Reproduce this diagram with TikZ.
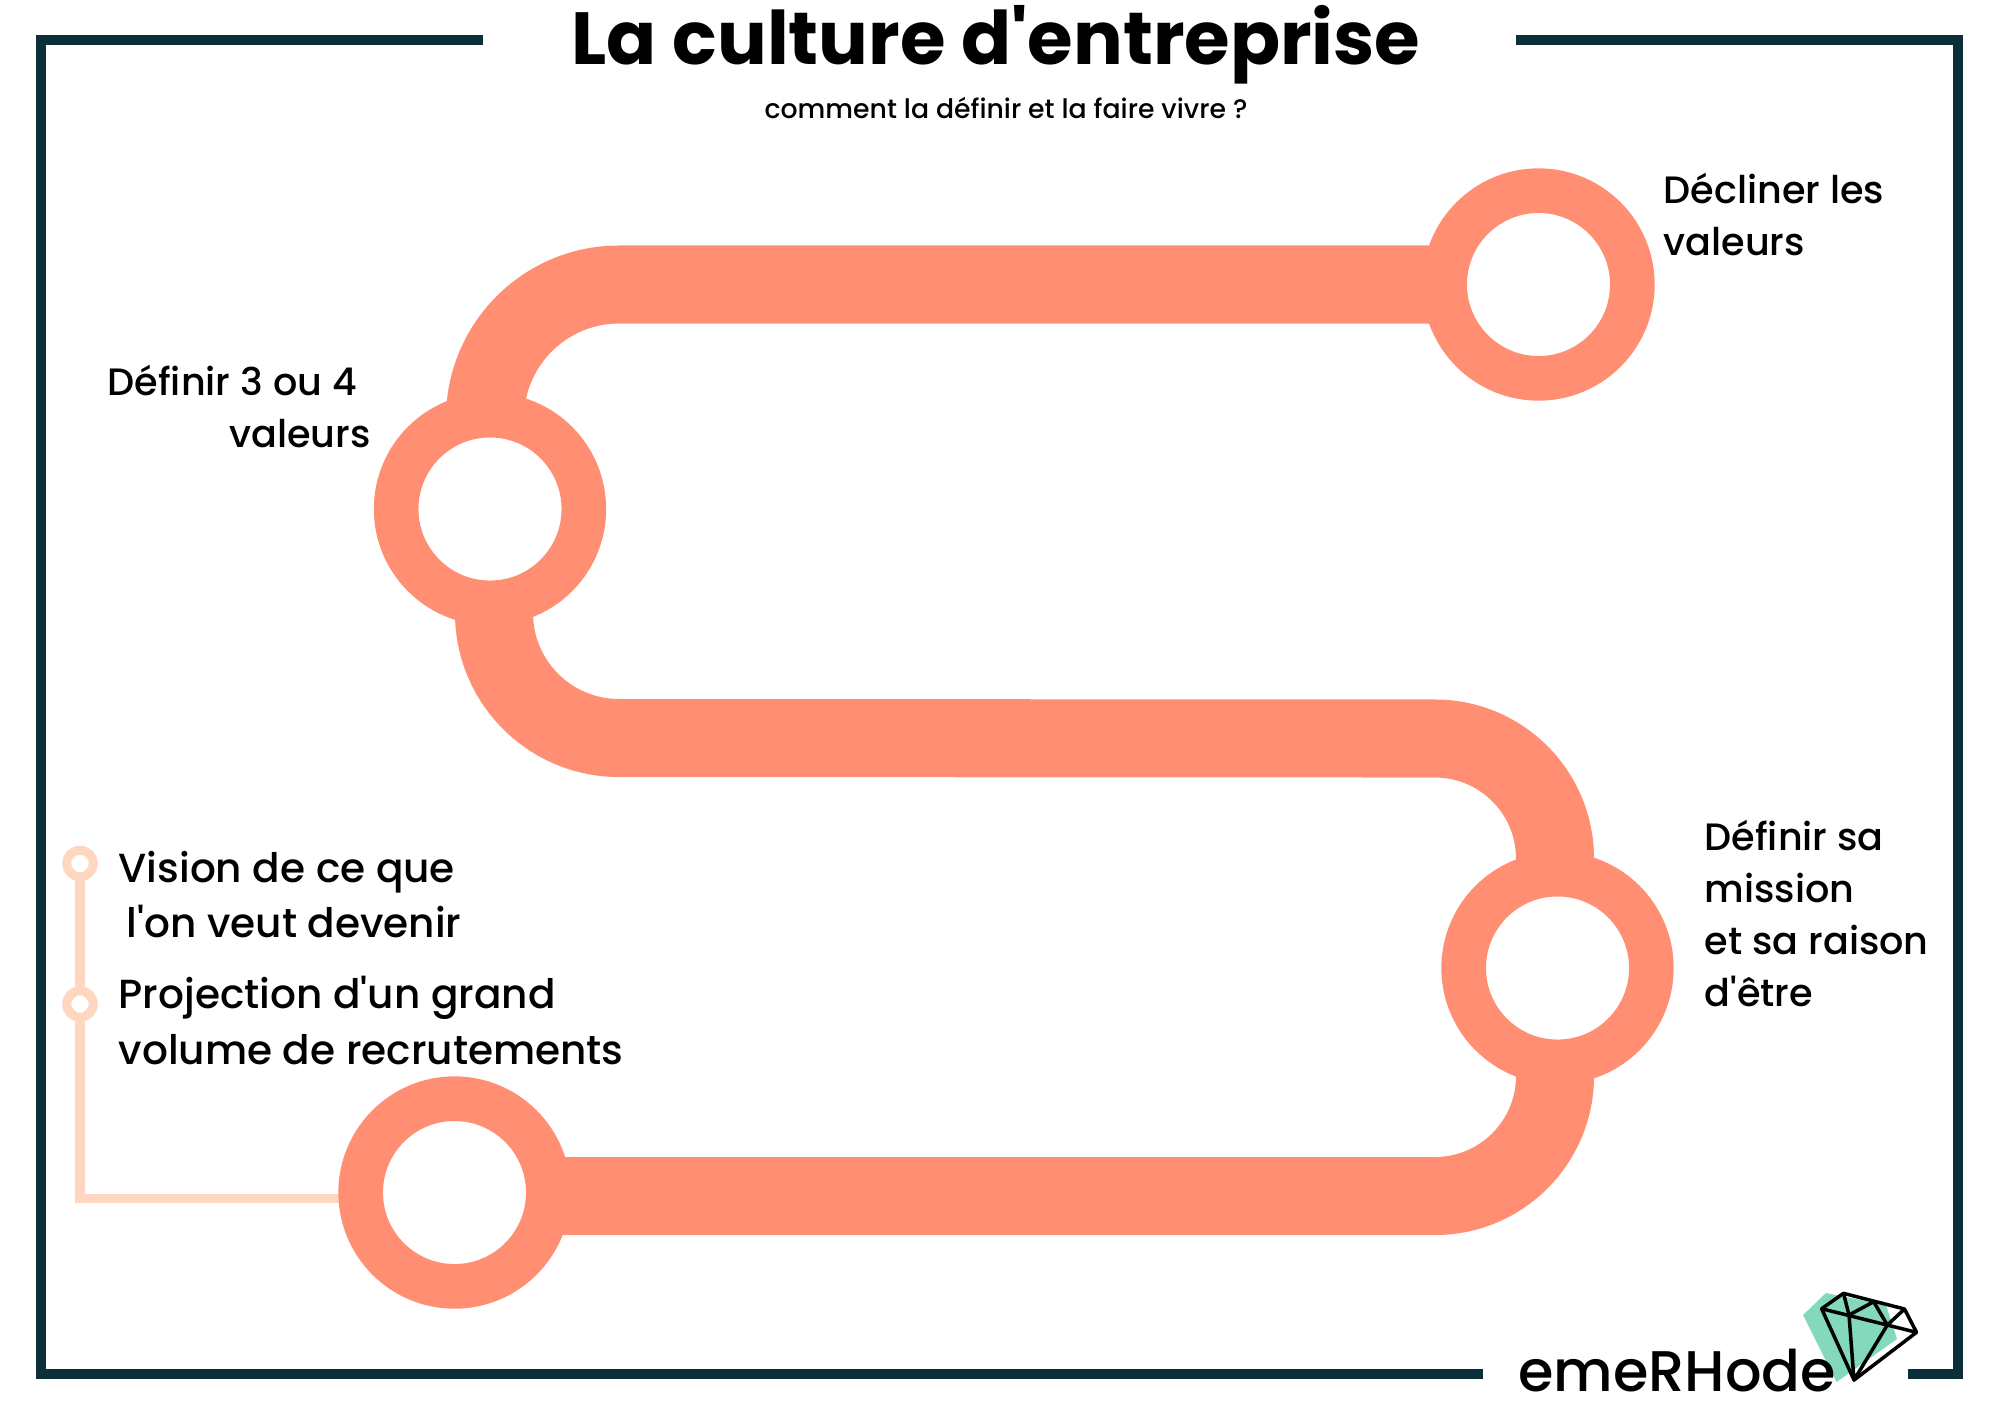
\documentclass[tikz,border=0pt]{standalone}
\usepackage{fontspec}
\setmainfont{Poppins}[Ligatures=TeXOff,UprightFont=* Medium,BoldFont=* Bold]
\usepackage{xcolor}
\usetikzlibrary{backgrounds}

\definecolor{bandcol}{HTML}{FF8E72}
\definecolor{framecol}{HTML}{0C2F3A}
\definecolor{pale}{HTML}{FFD6BF}
\definecolor{gem}{HTML}{84D8BC}

\tikzset{
    ring/.style={circle,draw=bandcol,fill=white,line width=0.446cm,minimum size=1.876cm,inner sep=0pt},
    dot/.style={circle,draw=pale,fill=white,line width=0.09cm,minimum size=0.265cm,inner sep=0pt},
    band/.style={draw=bandcol,line width=0.78cm},
    frameline/.style={draw=framecol,line width=0.1cm},
    thinline/.style={draw=pale,line width=0.09cm,line cap=round},
    gemline/.style={draw=black,line width=0.035cm,line join=round},
    label/.style={anchor=north west,align=left,inner sep=0pt,font=\fontsize{10.85}{14.8}\selectfont},
    biglabel/.style={anchor=north west,align=left,inner sep=0pt,font=\fontsize{11.55}{15.9}\selectfont}
}

\begin{document}
\begin{tikzpicture}[x=0.01cm,y=-0.01cm]
    \useasboundingbox (0,0) rectangle (2000,1414);

    \node (a) at (454.5,1192.5) [ring] {};
    \node (b) at (1557.5,968) [ring] {};
    \node (c) at (490,509) [ring] {};
    \node (d) at (1538.5,284.5) [ring] {};
    \node (v) at (80,863.5) [dot] {};
    \node (p) at (80,1004) [dot] {};
    \coordinate (k) at (80,1198);

    \begin{pgfonlayer}{background}
        \draw[band] (d.center) -- (619,284.5) arc[start angle=270,end angle=180,radius=134] -- (c.center);
        \draw[band] (c.center) -- (494,613) arc[start angle=180,end angle=90,radius=125] -- (1435,738.5)
            arc[start angle=270,end angle=360,radius=120] -- (b.center);
        \draw[band] (b.center) -- (1555,1076) arc[start angle=0,end angle=90,radius=120] -- (a.center |- 0,1196);
        \draw[thinline] (v) -- (p) -- (k) -- (k -| a.west);
    \end{pgfonlayer}

    % frame
    \draw[frameline] (483,40) -- (41,40) -- (41,1374) -- (1483,1374);
    \draw[frameline] (1516,40) -- (1958,40) -- (1958,1374) -- (1908,1374);

    \node (title) at (996,45) [font=\fontsize{21}{24}\selectfont\bfseries] {La culture d'entreprise};
    \node (sub) at (1006,108) [font=\fontsize{7.6}{10}\selectfont] {comment la définir et la faire vivre ?};

    \node (ld) at (1663,172) [label] {Décliner les\\valeurs};
    \node (lc) at (107,364) [label,align=right] {Définir 3 ou 4\hspace*{0.14cm}\mbox{}\\valeurs};
    \node (lb) at (1704,819) [label] {Définir sa\\mission\\et sa raison\\d'être};
    \node (lv) at (118,850) [biglabel] {Vision de ce que\\\hspace{0.08cm}l'on veut devenir};
    \node (lp) at (118,975) [biglabel] {Projection d'un grand\\volume de recrutements};

    % logo
    \fill[gem] (1826,1293) -- (1803,1315) -- (1836.5,1382) -- (1897,1339) -- (1886,1305) -- cycle;
    \draw[gemline] (1843.5,1293.3) -- (1904.5,1309) -- (1916.5,1332.3) -- (1854,1380) -- (1821.6,1308.7) -- cycle;
    \draw[gemline] (1821.6,1308.7) -- (1916.5,1332.3);
    \draw[gemline] (1843.5,1293.3) -- (1849,1315) -- (1854,1380) -- (1887.3,1325) -- (1904.5,1309);
    \draw[gemline] (1849,1315) -- (1873.7,1301.7) -- (1887.3,1325);
    \node (logo) at (1677,1371) [font=\fontsize{16.3}{20}\selectfont] {emeRHode};
\end{tikzpicture}
\end{document}
